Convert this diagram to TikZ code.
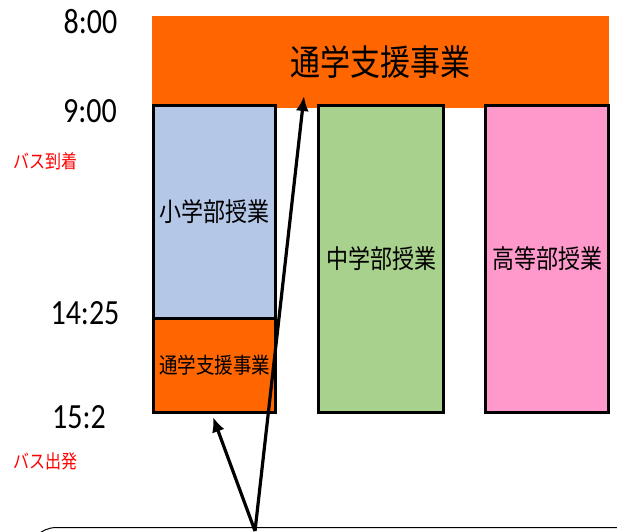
\documentclass[tikz,border=0pt]{standalone}
\usepackage{fontspec}
\usetikzlibrary{arrows.meta}
\newfontfamily\jp{Noto Sans CJK JP}
\newfontfamily\num{Carlito}
\definecolor{barorange}{HTML}{FF6600}
\definecolor{elemblue}{HTML}{B4C7E7}
\definecolor{midgreen}{HTML}{A9D18E}
\definecolor{highpink}{HTML}{FF99CC}
\newcommand{\tall}[1]{\scalebox{1}[1.18]{#1}}
\begin{document}
\begin{tikzpicture}[x=1pt,y=-1pt,
  timelbl/.style={inner sep=0pt,font=\num\fontsize{30}{30}\selectfont},
  buslbl/.style={inner sep=0pt,text=red,font=\jp\fontsize{16}{16}\selectfont},
  classbox/.style={draw=black,line width=3pt,inner sep=0pt,font=\jp\fontsize{22}{22}\selectfont},
  arr/.style={line width=3.2pt,-{Latex[length=15pt,width=13pt]}}]
\useasboundingbox (0,0) rectangle (617,531);
\fill[white] (0,0) rectangle (617,531);
% top bar
\node[fill=barorange,inner sep=0pt,minimum width=457pt,minimum height=92pt,
  font=\jp\fontsize{30}{30}\selectfont] (top) at (380.5,62) {\tall{通学支援事業}};
% class boxes
\node[classbox,fill=elemblue,minimum width=122pt,minimum height=213pt] (elem) at (214.5,212) {\tall{小学部授業}};
\node[classbox,fill=barorange,minimum width=122pt,minimum height=94pt,
  font=\jp\fontsize{18.5}{18.5}\selectfont] (after) at (214.5,365.5) {\tall{通学支援事業}};
\node[classbox,fill=midgreen,minimum width=125pt,minimum height=307pt] (mid) at (381,259) {\tall{中学部授業}};
\node[classbox,fill=highpink,minimum width=123pt,minimum height=307pt] (high) at (547,259) {\tall{高等部授業}};
% time labels
\node[timelbl] (t800) at (90.5,21.5) {\tall{8:00}};
\node[timelbl] (t900) at (90,111) {\tall{9:00}};
\node[timelbl] (t1425) at (85,313) {\tall{14:25}};
\node[timelbl] (t152) at (79,417) {\tall{15:2}};
\node[buslbl] (arrive) at (45.5,161) {\tall{バス到着}};
\node[buslbl] (depart) at (45.5,461) {\tall{バス出発}};
% callout box (partly outside the picture)
\begin{scope}
\clip (0,0) rectangle (617,531);
\node[draw=black,line width=1pt,rounded corners=28pt,minimum width=620pt,minimum height=80pt,anchor=north west] (callout) at (28,527) {};
\end{scope}
\coordinate (src) at (255,531);
\coordinate (tipA) at (304,96);
\coordinate (tipB) at (213,417);
\draw[arr] (src) -- (tipA);
\draw[arr] (src) -- (tipB);
\end{tikzpicture}
\end{document}
